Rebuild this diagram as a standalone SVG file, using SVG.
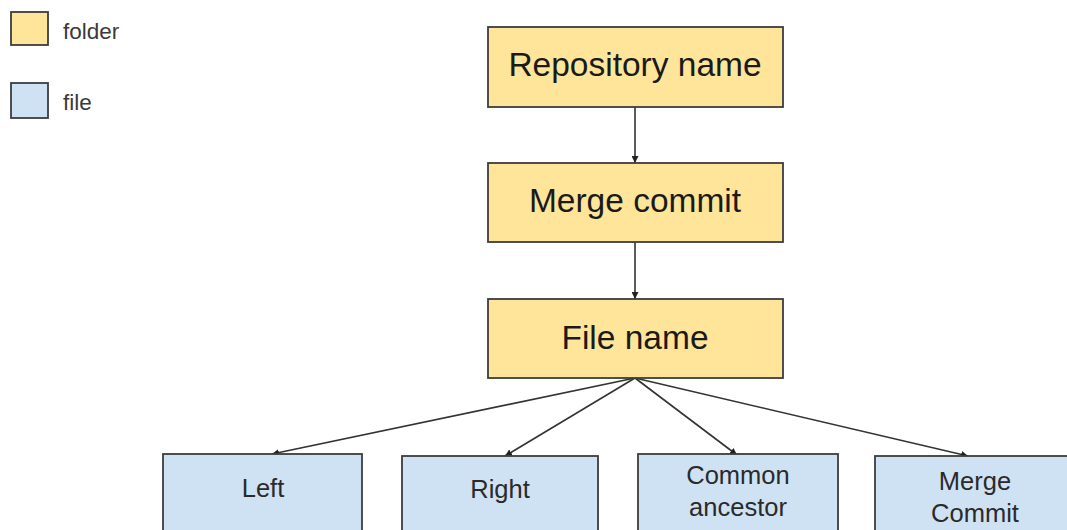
<svg xmlns="http://www.w3.org/2000/svg" width="1067" height="530" viewBox="0 0 1067 530">
<style>
.folder{fill:#ffe599;stroke:#3c3c3c;stroke-width:1.8}
.file{fill:#cfe2f3;stroke:#3c3c3c;stroke-width:1.8}
.big{font-family:"Liberation Sans",Arial,sans-serif;font-size:33.5px;fill:#1a1a1a;text-anchor:middle}
.small{font-family:"Liberation Sans",Arial,sans-serif;font-size:25.5px;fill:#2a2a2a;text-anchor:middle}
.leg{font-family:"Liberation Sans",Arial,sans-serif;font-size:22.5px;fill:#3a3a3a}
.conn{stroke:#333;stroke-width:1.6;fill:none;marker-end:url(#ah)}
</style>
<defs>
<marker id="ah" viewBox="0 0 10 10" refX="10" refY="5" markerWidth="7" markerHeight="7" orient="auto" markerUnits="userSpaceOnUse">
<path d="M0,0 L10,5 L0,10 z" fill="#222"/>
</marker>
</defs>
<rect width="1067" height="530" fill="#fff"/>
<g id="legend-folder"><rect class="folder" x="11" y="12" width="37" height="33"/><text class="leg" x="63" y="39">folder</text></g>
<g id="legend-file"><rect class="file" x="11" y="83" width="37" height="35"/><text class="leg" x="63" y="110">file</text></g>
<g id="connectors">
<line class="conn" x1="635" y1="107" x2="635" y2="163"/>
<line class="conn" x1="635" y1="242" x2="635" y2="299"/>
<line class="conn" x1="635" y1="378" x2="272" y2="454"/>
<line class="conn" x1="635" y1="378" x2="505" y2="456"/>
<line class="conn" x1="635" y1="378" x2="737" y2="455"/>
<line class="conn" x1="635" y1="378" x2="968" y2="456"/>
</g>
<g id="repo"><rect class="folder" x="488" y="27" width="295" height="80"/><text class="big" x="635" y="76">Repository name</text></g>
<g id="merge"><rect class="folder" x="488" y="163" width="295" height="79"/><text class="big" x="635" y="212">Merge commit</text></g>
<g id="filename"><rect class="folder" x="488" y="299" width="295" height="79"/><text class="big" x="635" y="349">File name</text></g>
<g id="left"><rect class="file" x="163" y="454" width="199" height="90"/><text class="small" x="263" y="497">Left</text></g>
<g id="right"><rect class="file" x="402" y="456" width="196" height="90"/><text class="small" x="500" y="498">Right</text></g>
<g id="common"><rect class="file" x="638" y="454" width="200" height="90"/><text class="small" x="738" y="484">Common</text><text class="small" x="738" y="516">ancestor</text></g>
<g id="mergecommit"><rect class="file" x="875" y="456" width="200" height="90"/><text class="small" x="975" y="490">Merge</text><text class="small" x="975" y="522">Commit</text></g>
</svg>
